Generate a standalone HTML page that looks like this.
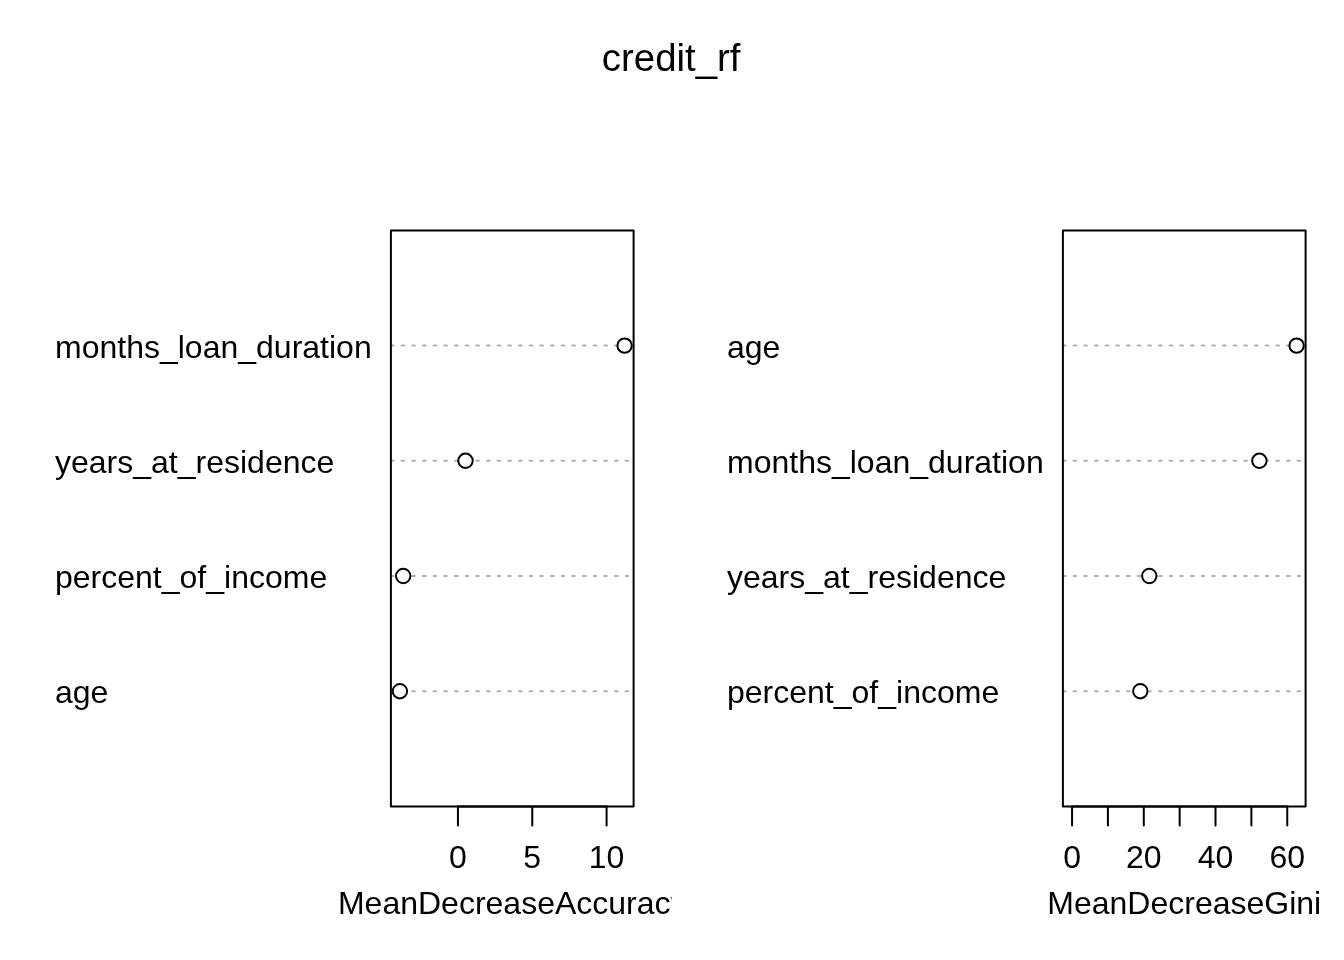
<!DOCTYPE html>
<html><head><meta charset="utf-8"><style>
html,body{margin:0;padding:0;background:#fff;width:1344px;height:960px;overflow:hidden}
svg{display:block;will-change:transform}
text{font-family:"Liberation Sans",sans-serif;fill:#000}
</style></head><body>
<svg width="1344" height="960" viewBox="0 0 1344 960">
<defs><clipPath id="c1"><path d="M0 0H671.6V908H670.6V960H0Z"/></clipPath>
<clipPath id="pr1"><rect x="390.9" y="230.4" width="242.7" height="576.0"/></clipPath>
<clipPath id="pr2"><rect x="1062.9" y="230.4" width="242.7" height="576.0"/></clipPath></defs>

<text x="671.2" y="71.0" font-size="38.4" text-anchor="middle">credit_rf</text>

<text x="55.0" y="703.40" font-size="32">age</text>
<text x="55.0" y="588.20" font-size="32">percent_of_income</text>
<text x="55.0" y="473.00" font-size="32">years_at_residence</text>
<text x="55.0" y="357.80" font-size="32">months_loan_duration</text>
<g clip-path="url(#pr1)" stroke="#b0b0b0" stroke-width="2" stroke-linecap="round" stroke-dasharray="2.67 8">
<line x1="390.9" y1="691.2" x2="633.6" y2="691.2"/>
<line x1="390.9" y1="576.0" x2="633.6" y2="576.0"/>
<line x1="390.9" y1="460.8" x2="633.6" y2="460.8"/>
<line x1="390.9" y1="345.6" x2="633.6" y2="345.6"/>
</g>
<circle cx="399.9" cy="691.2" r="7.2" fill="#fff" stroke="#000" stroke-width="2" stroke-linejoin="round"/>
<circle cx="403.2" cy="576.0" r="7.2" fill="#fff" stroke="#000" stroke-width="2" stroke-linejoin="round"/>
<circle cx="465.5" cy="460.8" r="7.2" fill="#fff" stroke="#000" stroke-width="2" stroke-linejoin="round"/>
<circle cx="624.6" cy="345.6" r="7.2" fill="#fff" stroke="#000" stroke-width="2" stroke-linejoin="round"/>
<rect x="390.9" y="230.4" width="242.7" height="576.0" fill="none" stroke="#000" stroke-width="2" stroke-linejoin="round"/>
<path d="M457.95 806.4H606.60" stroke="#000" stroke-width="2" stroke-linecap="round" fill="none"/>
<path d="M457.95 806.4V825.6" stroke="#000" stroke-width="2" stroke-linecap="round" fill="none"/>
<path d="M532.27 806.4V825.6" stroke="#000" stroke-width="2" stroke-linecap="round" fill="none"/>
<path d="M606.60 806.4V825.6" stroke="#000" stroke-width="2" stroke-linecap="round" fill="none"/>
<text x="457.95" y="868.3" font-size="32" text-anchor="middle">0</text>
<text x="532.27" y="868.3" font-size="32" text-anchor="middle">5</text>
<text x="606.60" y="868.3" font-size="32" text-anchor="middle">10</text>
<text x="512.25" y="913.6" font-size="32" text-anchor="middle" clip-path="url(#c1)">MeanDecreaseAccuracy</text>
<text x="727.0" y="703.40" font-size="32">percent_of_income</text>
<text x="727.0" y="588.20" font-size="32">years_at_residence</text>
<text x="727.0" y="473.00" font-size="32">months_loan_duration</text>
<text x="727.0" y="357.80" font-size="32">age</text>
<g clip-path="url(#pr2)" stroke="#b0b0b0" stroke-width="2" stroke-linecap="round" stroke-dasharray="2.67 8">
<line x1="1062.9" y1="691.2" x2="1305.6" y2="691.2"/>
<line x1="1062.9" y1="576.0" x2="1305.6" y2="576.0"/>
<line x1="1062.9" y1="460.8" x2="1305.6" y2="460.8"/>
<line x1="1062.9" y1="345.6" x2="1305.6" y2="345.6"/>
</g>
<circle cx="1140.3" cy="691.2" r="7.2" fill="#fff" stroke="#000" stroke-width="2" stroke-linejoin="round"/>
<circle cx="1149.3" cy="576.0" r="7.2" fill="#fff" stroke="#000" stroke-width="2" stroke-linejoin="round"/>
<circle cx="1259.4" cy="460.8" r="7.2" fill="#fff" stroke="#000" stroke-width="2" stroke-linejoin="round"/>
<circle cx="1296.6" cy="345.6" r="7.2" fill="#fff" stroke="#000" stroke-width="2" stroke-linejoin="round"/>
<rect x="1062.9" y="230.4" width="242.7" height="576.0" fill="none" stroke="#000" stroke-width="2" stroke-linejoin="round"/>
<path d="M1072.05 806.4H1287.25" stroke="#000" stroke-width="2" stroke-linecap="round" fill="none"/>
<path d="M1072.05 806.4V825.6" stroke="#000" stroke-width="2" stroke-linecap="round" fill="none"/>
<path d="M1107.92 806.4V825.6" stroke="#000" stroke-width="2" stroke-linecap="round" fill="none"/>
<path d="M1143.78 806.4V825.6" stroke="#000" stroke-width="2" stroke-linecap="round" fill="none"/>
<path d="M1179.65 806.4V825.6" stroke="#000" stroke-width="2" stroke-linecap="round" fill="none"/>
<path d="M1215.52 806.4V825.6" stroke="#000" stroke-width="2" stroke-linecap="round" fill="none"/>
<path d="M1251.38 806.4V825.6" stroke="#000" stroke-width="2" stroke-linecap="round" fill="none"/>
<path d="M1287.25 806.4V825.6" stroke="#000" stroke-width="2" stroke-linecap="round" fill="none"/>
<text x="1072.05" y="868.3" font-size="32" text-anchor="middle">0</text>
<text x="1143.78" y="868.3" font-size="32" text-anchor="middle">20</text>
<text x="1215.52" y="868.3" font-size="32" text-anchor="middle">40</text>
<text x="1287.25" y="868.3" font-size="32" text-anchor="middle">60</text>
<text x="1184.25" y="913.6" font-size="32" text-anchor="middle">MeanDecreaseGini</text>
</svg></body></html>
